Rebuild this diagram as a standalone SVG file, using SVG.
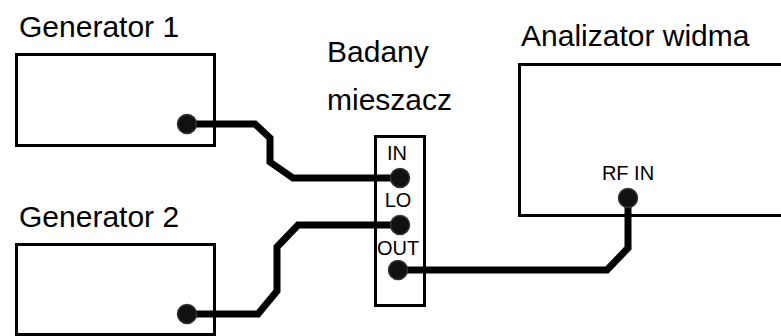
<svg xmlns="http://www.w3.org/2000/svg" width="781" height="336" viewBox="0 0 781 336">
<style>
.box{fill:#fff;stroke:#000;stroke-width:3}
.title{font-family:"Liberation Sans",Arial,sans-serif;font-size:30px;fill:#000}
.lbl{font-family:"Liberation Sans",Arial,sans-serif;font-size:20px;fill:#000;text-anchor:middle}
.wire{fill:none;stroke:#000;stroke-width:7;stroke-linejoin:miter}
.dot{fill:#111;stroke:#333;stroke-width:1.5}
</style>
<rect width="781" height="336" fill="#fff"/>
<g id="generator1">
<text class="title" x="19" y="37">Generator 1</text>
<rect class="box" x="16.5" y="54.5" width="198" height="91"/>
</g>
<g id="generator2">
<text class="title" x="19" y="227">Generator 2</text>
<rect class="box" x="16.5" y="244.5" width="198" height="90"/>
</g>
<g id="mixer">
<text class="title" x="327" y="62">Badany</text>
<text class="title" x="327" y="110">mieszacz</text>
<rect class="box" x="375.5" y="136.5" width="49" height="169"/>
<text class="lbl" x="397" y="160">IN</text>
<text class="lbl" x="398" y="207">LO</text>
<text class="lbl" x="398" y="255">OUT</text>
</g>
<g id="analyzer">
<text class="title" x="521" y="46">Analizator widma</text>
<rect class="box" x="519.5" y="64.5" width="300" height="151"/>
<text class="lbl" x="628" y="180">RF IN</text>
</g>
<g id="connectors">
<path class="wire" d="M187,124 H255 L270,138 V162 L293,178 H400"/>
<path class="wire" d="M187,314 H258 L277,291 V247 L298,225 H400"/>
<path class="wire" d="M398,270 H607 L628,248 V198"/>
</g>
<g id="ports">
<circle class="dot" cx="187" cy="124" r="9.5"/>
<circle class="dot" cx="187" cy="314" r="9.5"/>
<circle class="dot" cx="400" cy="178" r="9.5"/>
<circle class="dot" cx="400" cy="225" r="9.5"/>
<circle class="dot" cx="398" cy="270" r="9.5"/>
<circle class="dot" cx="628" cy="198" r="9.5"/>
</g>
</svg>
